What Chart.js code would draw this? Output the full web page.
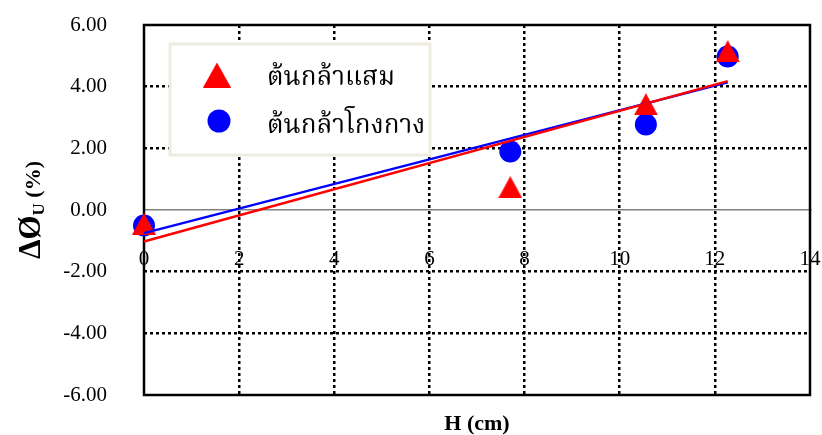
<!DOCTYPE html>
<html>
<head>
<meta charset="utf-8">
<script src="https://cdn.jsdelivr.net/npm/chart.js@4.4.0/dist/chart.umd.min.js"></script>
<style>
  html, body { margin: 0; padding: 0; background: #ffffff; }
  #wrap { position: relative; width: 822px; height: 435px; }
</style>
</head>
<body>
<div id="wrap"><canvas id="chart" width="822" height="435"></canvas></div>
<script>
// Seedling height (cm) against change in ØU (%), two mangrove species
const seriesNames = ['ต้นกล้าแสม', 'ต้นกล้าโกงกาง'];
const heightCm = [0, 7.7, 10.55, 12.27];
const changeSaem = [-0.45, 0.74, 3.43, 5.15];
const changeKongkang = [-0.5, 1.9, 2.77, 4.98];

// Linear trend lines, start and end values
const trendX = [0, 12.27];
const trendSaem = [-1.02, 4.18];
const trendKongkang = [-0.75, 4.14];

const xTicks = [0, 2, 4, 6, 8, 10, 12, 14];
const yTicks = [-6, -4, -2, 0, 2, 4, 6];
const xTitle = 'H (cm)';

const RED = '#FF0000';
const BLUE = '#0000FF';
const SERIF = '"Liberation Serif", "Times New Roman", serif';
const THAI = '"Noto Serif Thai", "Norasi", "Noto Sans Thai", "Loma", "Garuda", serif';
const DOTS = [3, 3];

function triangleMarker(w, h, color) {
  const c = document.createElement('canvas');
  c.width = w; c.height = h;
  const g = c.getContext('2d');
  g.fillStyle = color;
  g.beginPath();
  g.moveTo(w / 2, 0);
  g.lineTo(w, h);
  g.lineTo(0, h);
  g.closePath();
  g.fill();
  return c;
}

const toPoints = (xs, ys) => xs.map((x, i) => ({ x: x, y: ys[i] }));

// Black frame around the plot area
const framePlugin = {
  id: 'frame',
  beforeDatasetsDraw(chart) {
    const a = chart.chartArea, ctx = chart.ctx;
    ctx.save();
    ctx.strokeStyle = '#000000';
    ctx.lineWidth = 2.5;
    ctx.strokeRect(a.left, a.top, a.right - a.left, a.bottom - a.top);
    ctx.restore();
  }
};

// Vertical axis title with subscript
const yTitlePlugin = {
  id: 'yTitle',
  afterDraw(chart) {
    const ctx = chart.ctx;
    const a = chart.chartArea;
    const parts = [
      { t: 'ΔØ', size: 31, dy: 0 },
      { t: 'U', size: 17, dy: 4 },
      { t: ' (%)', size: 22, dy: 0 }
    ];
    ctx.save();
    let total = 0;
    parts.forEach(p => {
      ctx.font = 'bold ' + p.size + 'px ' + SERIF;
      p.w = ctx.measureText(p.t).width;
      total += p.w;
    });
    ctx.translate(40, (a.top + a.bottom) / 2);
    ctx.rotate(-Math.PI / 2);
    ctx.fillStyle = '#000000';
    ctx.textBaseline = 'alphabetic';
    ctx.textAlign = 'left';
    let x = -total / 2;
    parts.forEach(p => {
      ctx.font = 'bold ' + p.size + 'px ' + SERIF;
      ctx.fillText(p.t, x, p.dy);
      x += p.w;
    });
    ctx.restore();
  }
};

// Boxed legend inside the plot area
const legendPlugin = {
  id: 'boxLegend',
  afterDraw(chart) {
    const ctx = chart.ctx;
    ctx.save();
    ctx.fillStyle = '#ffffff';
    ctx.fillRect(170, 44, 260, 111);
    ctx.strokeStyle = '#EEECE1';
    ctx.lineWidth = 3;
    ctx.strokeRect(170, 44, 260, 111);

    const tri = triangleMarker(28, 25, RED);
    ctx.drawImage(tri, 217 - 14, 75 - 12.5);
    ctx.fillStyle = BLUE;
    ctx.beginPath();
    ctx.arc(219, 121, 11.5, 0, Math.PI * 2);
    ctx.fill();

    ctx.fillStyle = '#000000';
    ctx.font = '26px ' + THAI;
    ctx.textBaseline = 'alphabetic';
    ctx.textAlign = 'left';
    ctx.fillText(chart.data.datasets[2].label, 267, 85);
    ctx.fillText(chart.data.datasets[3].label, 267, 133);
    ctx.restore();
  }
};

new Chart(document.getElementById('chart'), {
  type: 'scatter',
  data: {
    datasets: [
      {
        label: 'แนวโน้ม ' + seriesNames[0],
        data: toPoints(trendX, trendSaem),
        showLine: true, borderColor: RED, borderWidth: 2.5,
        pointRadius: 0, fill: false, clip: false
      },
      {
        label: 'แนวโน้ม ' + seriesNames[1],
        data: toPoints(trendX, trendKongkang),
        showLine: true, borderColor: BLUE, borderWidth: 2.5,
        pointRadius: 0, fill: false, clip: false
      },
      {
        label: seriesNames[0],
        data: toPoints(heightCm, changeSaem),
        pointStyle: triangleMarker(24, 22, RED),
        pointRadius: 12, borderWidth: 0, backgroundColor: RED, clip: false
      },
      {
        label: seriesNames[1],
        data: toPoints(heightCm, changeKongkang),
        pointStyle: 'circle', pointRadius: 11, borderWidth: 0,
        backgroundColor: BLUE, borderColor: BLUE, clip: false
      }
    ]
  },
  options: {
    responsive: false,
    animation: false,
    layout: { padding: { left: 0, right: 12, top: 25, bottom: 0 } },
    plugins: {
      legend: { display: false },
      tooltip: { enabled: false }
    },
    scales: {
      x: {
        // horizontal axis crosses at y = 0
        type: 'linear', min: 0, max: 14,
        position: { y: 0 },
        afterBuildTicks: s => { s.ticks = xTicks.map(v => ({ value: v })); },
        afterFit: s => { s.paddingLeft = 0; s.paddingRight = 0; s.paddingTop = 0; s.paddingBottom = 0; },
        ticks: {
          color: '#000000', padding: 37,
          font: { family: SERIF, size: 21 },
          callback: v => String(v)
        },
        grid: {
          drawTicks: false, lineWidth: 2.5,
          color: c => (c.tick && (c.tick.value === 0 || c.tick.value === 14)) ? 'rgba(0,0,0,0)' : '#000000'
        },
        border: { display: true, color: '#808080', width: 1.5, dash: DOTS }
      },
      x2: {
        type: 'linear', min: 0, max: 14, position: 'bottom',
        ticks: { display: false },
        grid: { display: false, drawTicks: false },
        border: { display: false },
        title: {
          display: true, text: xTitle, color: '#000000',
          font: { family: SERIF, size: 22, weight: 'bold', lineHeight: 1 },
          padding: { top: 0, bottom: 0 }
        },
        afterFit: s => { s.height = 40; s.paddingLeft = 0; s.paddingRight = 0; }
      },
      y: {
        type: 'linear', min: -6, max: 6, position: 'left',
        afterBuildTicks: s => { s.ticks = yTicks.map(v => ({ value: v })); },
        afterFit: s => { s.width = 144; s.paddingTop = 0; s.paddingBottom = 0; },
        ticks: {
          color: '#000000', padding: 37,
          font: { family: SERIF, size: 21 },
          callback: v => Number(v).toFixed(2)
        },
        grid: {
          drawTicks: false, lineWidth: 2.5,
          color: c => (c.tick && [-4, -2, 2, 4].includes(c.tick.value)) ? '#000000' : 'rgba(0,0,0,0)'
        },
        border: { display: false, dash: DOTS }
      }
    }
  },
  plugins: [framePlugin, yTitlePlugin, legendPlugin]
});
</script>
</body>
</html>
